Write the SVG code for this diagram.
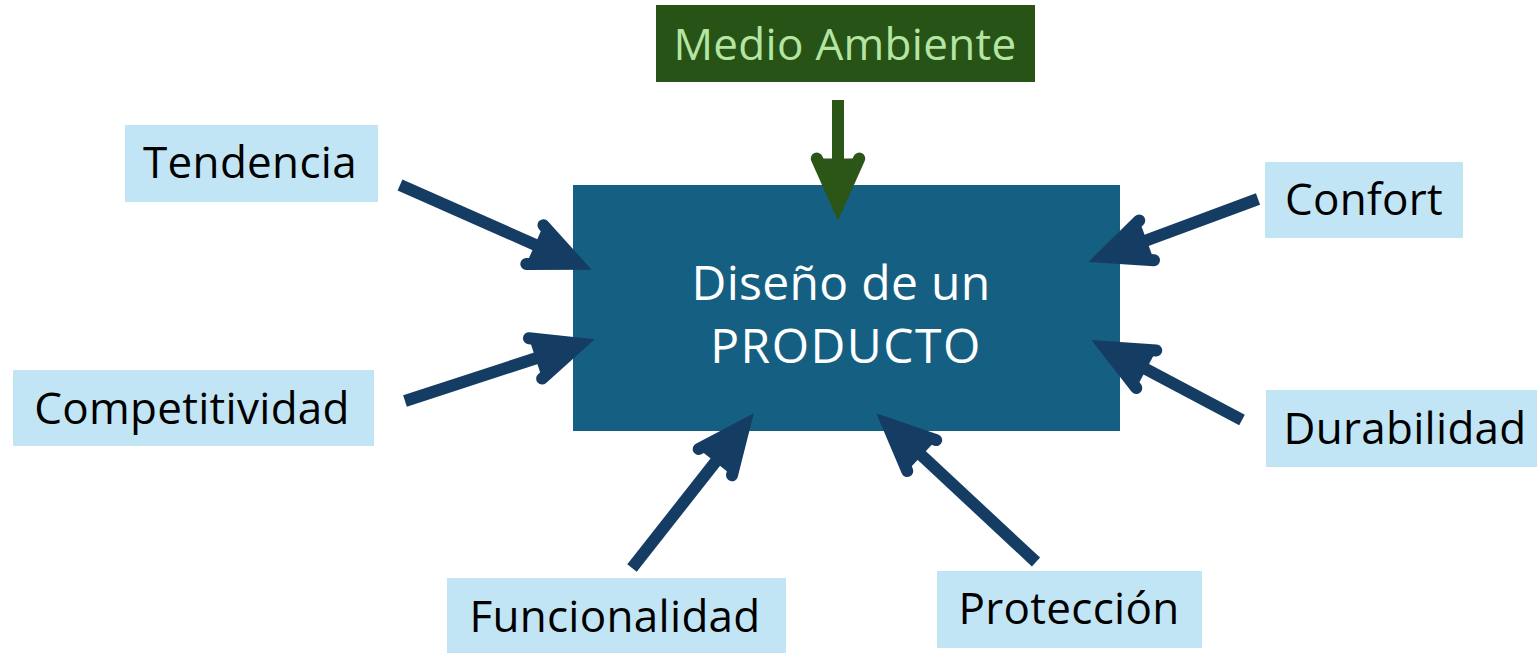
<svg xmlns="http://www.w3.org/2000/svg" width="1537" height="653" viewBox="0 0 1537 653">
<defs>
<style>
.lbl{fill:#C2E5F5}
.lt{font-family:"Open Sans","Liberation Sans",sans-serif;font-size:44px;letter-spacing:0.3px;fill:#000;text-anchor:middle}
.ct{font-family:"Open Sans","Liberation Sans",sans-serif;font-size:48px;fill:#fff;text-anchor:middle}
.arr{stroke:#153D64;stroke-width:12;fill:none;marker-end:url(#ah)}
.garr{stroke:#2B5618;stroke-width:12;fill:none;marker-end:url(#gh)}
</style>
<marker id="ah" markerUnits="userSpaceOnUse" orient="auto" refX="0" refY="0" markerWidth="10" markerHeight="10" overflow="visible">
<path d="M-47.5,-21.2 L0,0 L-47.5,21.2" fill="#153D64" stroke="#153D64" stroke-width="12" stroke-linecap="round" stroke-linejoin="miter" stroke-miterlimit="10"/>
</marker>
<marker id="gh" markerUnits="userSpaceOnUse" orient="auto" refX="0" refY="0" markerWidth="10" markerHeight="10" overflow="visible">
<path d="M-47.5,-21.2 L0,0 L-47.5,21.2" fill="#2B5618" stroke="#2B5618" stroke-width="12" stroke-linecap="round" stroke-linejoin="miter" stroke-miterlimit="10"/>
</marker>
</defs>
<rect width="1537" height="653" fill="#fff"/>
<g id="producto">
<rect x="573" y="185" width="547" height="246" fill="#156082"/>
<text class="ct" x="841" y="300" style="letter-spacing:0.3px">Diseño de un</text>
<text class="ct" x="846" y="363" style="letter-spacing:1.5px">PRODUCTO</text>
</g>
<g id="medio-ambiente">
<rect x="656" y="5" width="379" height="77" fill="#275317"/>
<text class="lt" x="845" y="60" style="fill:#B4E5A2">Medio Ambiente</text>
</g>
<g id="tendencia">
<rect class="lbl" x="125" y="125" width="253" height="77"/>
<text class="lt" x="250" y="178">Tendencia</text>
</g>
<g id="confort">
<rect class="lbl" x="1265" y="162" width="198" height="76"/>
<text class="lt" x="1364" y="215">Confort</text>
</g>
<g id="competitividad">
<rect class="lbl" x="13" y="370" width="361" height="76"/>
<text class="lt" x="192" y="424">Competitividad</text>
</g>
<g id="durabilidad">
<rect class="lbl" x="1266" y="390" width="271" height="77"/>
<text class="lt" x="1405" y="444">Durabilidad</text>
</g>
<g id="funcionalidad">
<rect class="lbl" x="447" y="578" width="339" height="75"/>
<text class="lt" x="615" y="632">Funcionalidad</text>
</g>
<g id="proteccion">
<rect class="lbl" x="937" y="571" width="265" height="77"/>
<text class="lt" x="1069" y="624">Protección</text>
</g>
<g id="connectors">
<line class="garr" x1="838" y1="100" x2="838" y2="206"/>
<line class="arr" x1="400" y1="185" x2="578.3" y2="263.9"/>
<line class="arr" x1="405" y1="401" x2="580.7" y2="343.7"/>
<line class="arr" x1="1258" y1="199" x2="1102.1" y2="256.8"/>
<line class="arr" x1="1242" y1="420" x2="1104.3" y2="347"/>
<line class="arr" x1="632" y1="568" x2="744.7" y2="424.8"/>
<line class="arr" x1="1036" y1="562" x2="887" y2="423.2"/>
</g>
</svg>
